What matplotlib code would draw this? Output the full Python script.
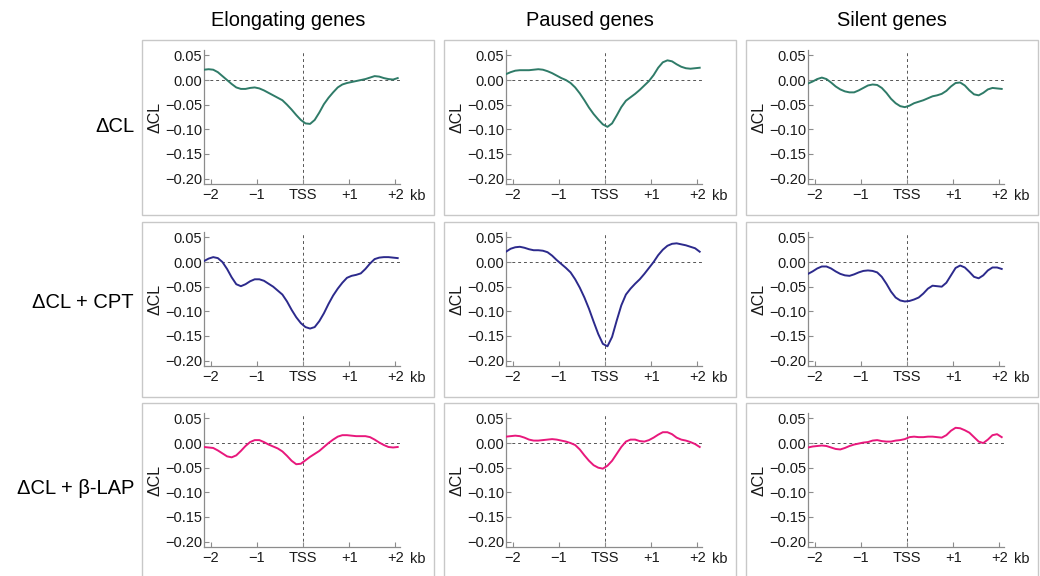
import numpy as np
import matplotlib
matplotlib.use("Agg")
import matplotlib.pyplot as plt
from matplotlib.patches import Rectangle

plt.rcParams['font.family'] = ['Liberation Sans', 'DejaVu Sans']

# positions along the gene (kb relative to TSS)
x_kb = np.round(np.arange(-2.15, 2.06, 0.1), 2)

col_titles = ["Elongating genes", "Paused genes", "Silent genes"]
row_titles = ["\u0394CL", "\u0394CL + CPT", "\u0394CL + \u03b2-LAP"]
row_colors = ["#2f7b68", "#2c2a8c", "#e8187c"]

xtick_pos = [-2, -1, 0, 1, 2]
xtick_labels = ["\u22122", "\u22121", "TSS", "+1", "+2"]
ytick_pos = [0.05, 0.0, -0.05, -0.10, -0.15, -0.20]
ytick_labels = ["0.05", "0.00", "\u22120.05", "\u22120.10", "\u22120.15", "\u22120.20"]

# row 1: delta CL
dcl_elong = [0.021, 0.022, 0.021, 0.016, 0.008, 0.000, -0.008, -0.015, -0.018, -0.018,
             -0.016, -0.015, -0.017, -0.021, -0.026, -0.031, -0.036, -0.041, -0.050, -0.060,
             -0.071, -0.081, -0.088, -0.089, -0.081, -0.066, -0.049, -0.036, -0.025, -0.015,
             -0.009, -0.006, -0.004, -0.002, 0.000, 0.002, 0.005, 0.008, 0.007, 0.004,
             0.002, 0.001, 0.004]
dcl_paused = [0.012, 0.016, 0.019, 0.020, 0.020, 0.020, 0.021, 0.022, 0.021, 0.018,
              0.014, 0.009, 0.004, 0.000, -0.006, -0.015, -0.027, -0.041, -0.056, -0.069,
              -0.080, -0.090, -0.095, -0.088, -0.072, -0.055, -0.042, -0.035, -0.028, -0.020,
              -0.011, -0.002, 0.010, 0.025, 0.036, 0.040, 0.038, 0.032, 0.027, 0.024,
              0.023, 0.024, 0.025]
dcl_silent = [-0.007, -0.003, 0.002, 0.005, 0.002, -0.005, -0.013, -0.019, -0.023, -0.025,
              -0.025, -0.021, -0.016, -0.011, -0.009, -0.010, -0.016, -0.026, -0.038, -0.047,
              -0.053, -0.055, -0.052, -0.047, -0.044, -0.041, -0.037, -0.033, -0.031, -0.028,
              -0.022, -0.013, -0.006, -0.005, -0.011, -0.021, -0.029, -0.031, -0.026, -0.019,
              -0.016, -0.017, -0.018]

# row 2: delta CL + CPT
cpt_elong = [0.002, 0.007, 0.010, 0.008, 0.000, -0.014, -0.031, -0.045, -0.049, -0.045,
             -0.039, -0.035, -0.035, -0.038, -0.044, -0.050, -0.058, -0.066, -0.080, -0.097,
             -0.112, -0.124, -0.132, -0.135, -0.132, -0.120, -0.104, -0.085, -0.068, -0.054,
             -0.042, -0.032, -0.028, -0.026, -0.023, -0.014, -0.003, 0.006, 0.009, 0.010,
             0.010, 0.009, 0.008]
cpt_paused = [0.021, 0.027, 0.030, 0.031, 0.029, 0.026, 0.024, 0.024, 0.023, 0.020,
              0.013, 0.004, -0.004, -0.012, -0.021, -0.035, -0.052, -0.072, -0.095, -0.121,
              -0.146, -0.166, -0.171, -0.152, -0.119, -0.088, -0.066, -0.054, -0.044, -0.035,
              -0.024, -0.012, 0.000, 0.014, 0.025, 0.033, 0.037, 0.038, 0.036, 0.034,
              0.031, 0.028, 0.021]
cpt_silent = [-0.024, -0.019, -0.013, -0.009, -0.009, -0.013, -0.019, -0.024, -0.027, -0.028,
              -0.025, -0.021, -0.018, -0.017, -0.018, -0.021, -0.030, -0.044, -0.060, -0.072,
              -0.078, -0.080, -0.079, -0.076, -0.072, -0.064, -0.054, -0.048, -0.049, -0.050,
              -0.042, -0.027, -0.012, -0.007, -0.011, -0.020, -0.030, -0.033, -0.027, -0.017,
              -0.011, -0.011, -0.014]

# row 3: delta CL + beta-LAP
lap_elong = [-0.008, -0.009, -0.010, -0.015, -0.021, -0.027, -0.029, -0.025, -0.016, -0.006,
             0.002, 0.006, 0.006, 0.002, -0.003, -0.007, -0.011, -0.017, -0.026, -0.036,
             -0.043, -0.042, -0.035, -0.028, -0.022, -0.016, -0.008, 0.000, 0.007, 0.013,
             0.016, 0.016, 0.015, 0.014, 0.014, 0.014, 0.012, 0.007, 0.001, -0.004,
             -0.008, -0.009, -0.008]
lap_paused = [0.013, 0.014, 0.015, 0.014, 0.011, 0.007, 0.005, 0.005, 0.006, 0.007,
              0.008, 0.007, 0.005, 0.003, 0.000, -0.004, -0.013, -0.025, -0.036, -0.045,
              -0.050, -0.052, -0.046, -0.036, -0.022, -0.008, 0.003, 0.007, 0.007, 0.004,
              0.003, 0.006, 0.011, 0.017, 0.022, 0.022, 0.018, 0.011, 0.007, 0.005,
              0.002, -0.002, -0.008]
lap_silent = [-0.009, -0.007, -0.006, -0.005, -0.006, -0.009, -0.012, -0.013, -0.010, -0.006,
              -0.003, -0.001, 0.001, 0.002, 0.005, 0.006, 0.004, 0.003, 0.003, 0.005,
              0.006, 0.008, 0.012, 0.013, 0.012, 0.012, 0.013, 0.013, 0.012, 0.011,
              0.016, 0.025, 0.031, 0.030, 0.026, 0.021, 0.012, 0.003, 0.000, 0.007,
              0.016, 0.018, 0.012]

curves = [[dcl_elong, dcl_paused, dcl_silent],
          [cpt_elong, cpt_paused, cpt_silent],
          [lap_elong, lap_paused, lap_silent]]

W, H = 1040, 576
fig = plt.figure(figsize=(W / 100, H / 100), dpi=100)

# panel frames in pixels (left, top)
box_left = [142, 444, 746]
box_top = [40, 222, 403]
box_w, box_h = 292, 175


def fig_rect(left, top, w, h):
    return [left / W, 1 - (top + h) / H, w / W, h / H]


for r in range(3):
    for c in range(3):
        bl, bt = box_left[c], box_top[r]
        fig.patches.append(Rectangle((bl / W, 1 - (bt + box_h) / H), box_w / W, box_h / H,
                                     transform=fig.transFigure, fill=False,
                                     edgecolor="#c8c8c8", linewidth=1.0))
        ax = fig.add_axes(fig_rect(bl + 62, bt + 10, 196, 134))
        ax.plot(x_kb, curves[r][c], color=row_colors[r], lw=1.4, zorder=3)
        ax.axhline(0, color="#555555", lw=0.7, ls=(0, (3, 3)), zorder=1)
        ax.axvline(0, color="#555555", lw=0.7, ls=(0, (3, 3)), zorder=1)
        ax.set_xlim(-2.15, 2.1)
        ax.set_ylim(-0.211, 0.061)
        ax.set_xticks(xtick_pos)
        ax.set_xticklabels(xtick_labels)
        ax.set_yticks(ytick_pos)
        ax.set_yticklabels(ytick_labels)
        for s in ["top", "right"]:
            ax.spines[s].set_visible(False)
        for s in ["left", "bottom"]:
            ax.spines[s].set_color("#8c8c8c")
            ax.spines[s].set_linewidth(0.9)
        ax.tick_params(axis="both", direction="in", length=3.5, width=0.8,
                       color="#8c8c8c", labelsize=10.5, labelcolor="#1a1a1a")
        ax.tick_params(axis="y", pad=1.5)
        ax.tick_params(axis="x", pad=3.0)
        ax.set_ylabel("\u0394CL", fontsize=11.5, color="#1a1a1a", va="center")
        ax.yaxis.set_label_coords(-0.25, 0.5)
        ax.text(1.09, -0.09, "kb", transform=ax.transAxes, ha="center", va="center",
                fontsize=10.5, color="#1a1a1a")
        ax.patch.set_alpha(0)

for c in range(3):
    fig.text((box_left[c] + box_w / 2) / W, 1 - 20 / H, col_titles[c],
             ha="center", va="center", fontsize=14.4)

row_label_y = [127, 302, 488]
for r in range(3):
    fig.text(134 / W, 1 - row_label_y[r] / H, row_titles[r],
             ha="right", va="center", fontsize=14.5)

fig.savefig("out.png", dpi=100)
